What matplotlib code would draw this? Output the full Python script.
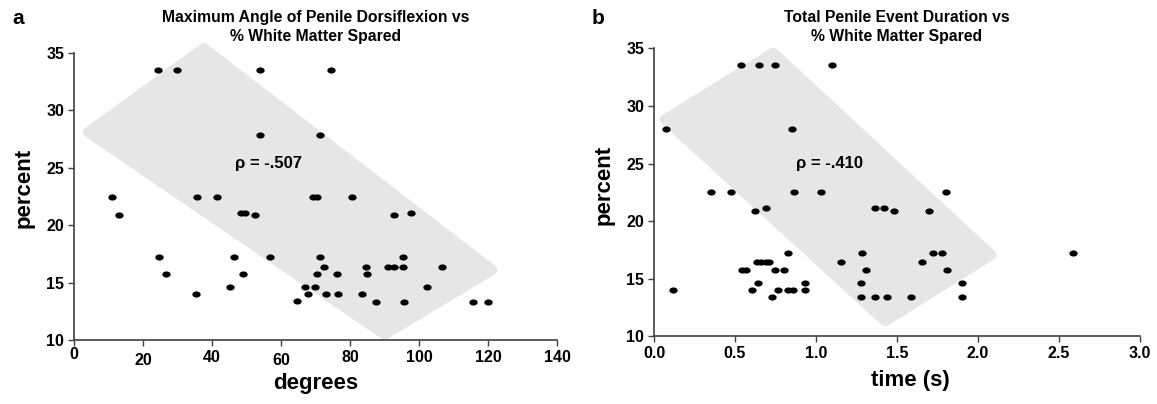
import numpy as np
import matplotlib
matplotlib.use("Agg")
import matplotlib.pyplot as plt
from matplotlib.patches import Polygon

plt.rcParams['font.family'] = ['Liberation Sans', 'DejaVu Sans']
plt.rcParams['font.weight'] = 'bold'

# panel a: max dorsiflexion angle (degrees) vs % white matter spared
angle_deg = [24.2, 29.8, 53.8, 74.4, 54.0, 71.4,
             11.0, 12.9, 35.5, 41.3, 48.3, 49.5, 52.3, 69.2, 70.4, 80.7, 92.6, 97.7,
             24.5, 26.7, 35.3, 46.4, 45.1, 48.9, 56.9, 64.5, 66.8, 67.7,
             71.3, 72.5, 70.4, 76.2, 69.9, 72.9, 76.5, 83.6, 84.6, 85.0,
             87.4, 91.1, 92.8, 95.3, 95.3, 95.6, 102.3, 106.5, 115.5, 120.1]
angle_pct = [33.55, 33.55, 33.55, 33.55, 27.9, 27.9,
             22.5, 20.9, 22.5, 22.5, 21.1, 21.1, 20.9, 22.5, 22.5, 22.5, 20.9, 21.1,
             17.2, 15.75, 14.0, 17.2, 14.65, 15.75, 17.2, 13.4, 14.65, 14.0,
             17.2, 16.4, 15.75, 15.75, 14.65, 14.0, 14.0, 14.0, 16.4, 15.75,
             13.35, 16.4, 16.4, 16.4, 17.2, 13.35, 14.65, 16.4, 13.35, 13.35]

# panel b: total event duration (s) vs % white matter spared
dur_s = [0.072, 0.535, 0.650, 0.747, 1.097, 0.852, 0.115,
         0.35, 0.473, 0.862, 1.029, 1.804,
         0.623, 0.691, 1.364, 1.422, 1.483, 1.698,
         0.825, 1.286, 1.724, 1.78, 2.586,
         0.545, 0.568, 0.747, 0.804, 1.307, 1.81,
         0.638, 0.66, 0.691, 0.712, 1.154, 1.652,
         0.64, 0.932, 1.278, 1.903,
         0.605, 0.767, 0.825, 0.856, 0.932,
         0.728, 1.278, 1.364, 1.44, 1.588, 1.903]
dur_pct = [27.97, 33.58, 33.58, 33.58, 33.58, 27.97, 14.05,
           22.53, 22.53, 22.53, 22.53, 22.53,
           20.88, 21.1, 21.1, 21.1, 20.88, 20.88,
           17.2, 17.2, 17.2, 17.2, 17.2,
           15.75, 15.75, 15.75, 15.75, 15.75, 15.75,
           16.4, 16.4, 16.4, 16.4, 16.4, 16.4,
           14.65, 14.65, 14.65, 14.65,
           14.05, 14.05, 14.05, 14.05, 14.05,
           13.4, 13.4, 13.4, 13.4, 13.4, 13.4]

# corners of the shaded trend band (left, top, right, bottom)
band_a = [(3.95, 28.1), (37.6, 35.45), (121.3, 16.1), (90.0, 10.45)]
band_b = [(0.064, 28.84), (0.737, 34.66), (2.084, 17.05), (1.426, 11.27)]

rho_a = "ρ = -.507"
rho_b = "ρ = -.410"

# slightly flattened dot
t = np.linspace(0, 2 * np.pi, 25)
dot = np.column_stack([1.35 * np.cos(t), np.sin(t)])

fig = plt.figure(figsize=(11.57, 4.04), dpi=100)
ax1 = fig.add_axes([0.064, 0.1584, 0.4175, 0.7104])
ax2 = fig.add_axes([0.5653, 0.168, 0.42, 0.712])


def style(ax):
    for s in ['top', 'right']:
        ax.spines[s].set_visible(False)
    for s in ['left', 'bottom']:
        ax.spines[s].set_color('#404040')
        ax.spines[s].set_linewidth(1.2)
    ax.tick_params(direction='out', length=4, width=1, color='#404040',
                   labelsize=11.5, pad=3)
    for lab in ax.get_xticklabels() + ax.get_yticklabels():
        lab.set_fontweight('bold')
    ax.set_ylim(10, 35)
    ax.set_yticks(range(10, 36, 5))


def band(ax, pts):
    ax.add_patch(Polygon(pts, closed=True, facecolor='#e6e6e6',
                         edgecolor='#e6e6e6', linewidth=7, joinstyle='round',
                         clip_on=False, zorder=0))


# a
band(ax1, band_a)
ax1.scatter(angle_deg, angle_pct, marker=dot, s=36, color='black', zorder=3,
            linewidths=0)
ax1.set_xlim(0, 140)
ax1.set_xticks(range(0, 141, 20))
style(ax1)
for tk, p in zip(ax1.xaxis.get_major_ticks(), [1, 5, 3, 5, 3, 3, 3, 3]):
    tk.set_pad(p)
ax1.text(56.5, 25.4, rho_a, ha='center', va='center', fontsize=12,
         fontweight='bold')
ax1.set_xlabel('degrees', fontsize=16, fontweight='bold', va='center')
ax1.xaxis.set_label_coords(0.5, -0.15)
ax1.set_ylabel('percent', fontsize=16, fontweight='bold', va='center')
ax1.yaxis.set_label_coords(-0.103, 0.53)
ax1.text(0.5, 1.09, 'Maximum Angle of Penile Dorsiflexion vs\n% White Matter Spared',
         transform=ax1.transAxes, ha='center', va='center', fontsize=11.3,
         fontweight='bold', linespacing=1.35)

# b
band(ax2, band_b)
ax2.scatter(dur_s, dur_pct, marker=dot, s=36, color='black', zorder=3,
            linewidths=0)
ax2.set_xlim(0, 3)
ax2.set_xticks(np.arange(0, 3.01, 0.5))
ax2.set_xticklabels([f'{v:.1f}' for v in np.arange(0, 3.01, 0.5)])
style(ax2)
ax2.text(1.086, 25.0, rho_b, ha='center', va='center', fontsize=12,
         fontweight='bold')
ax2.set_xlabel('time (s)', fontsize=16, fontweight='bold', va='center')
ax2.xaxis.set_label_coords(0.527, -0.153)
ax2.set_ylabel('percent', fontsize=16, fontweight='bold', va='center')
ax2.yaxis.set_label_coords(-0.103, 0.524)
ax2.text(0.5, 1.075, 'Total Penile Event Duration vs\n% White Matter Spared',
         transform=ax2.transAxes, ha='center', va='center', fontsize=11.3,
         fontweight='bold', linespacing=1.35)

fig.text(18 / 1157, 1 - 18 / 404, 'a', fontsize=15, fontweight='bold',
         ha='center', va='center')
fig.text(598 / 1157, 1 - 18 / 404, 'b', fontsize=15, fontweight='bold',
         ha='center', va='center')

fig.savefig('out.png', dpi=100)
